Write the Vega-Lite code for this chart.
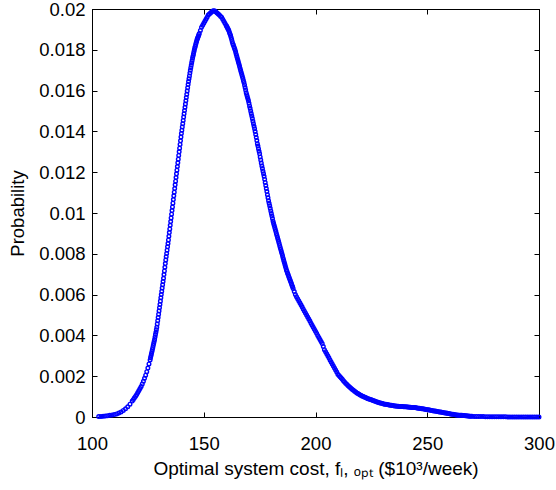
{
"$schema": "https://vega.github.io/schema/vega-lite/v6.json",
"width": 447, "height": 408,
"autosize": "none",
"padding": {"left": 92, "top": 9, "right": 17, "bottom": 73},
"config": {
  "view": {"stroke": "black", "strokeWidth": 1},
  "font": "Liberation Sans",
  "axis": {"domainColor": "black", "domainWidth": 1, "tickColor": "black", "tickWidth": 1, "tickSize": -5, "grid": false, "labelFont": "Liberation Sans", "labelFontSize": 18.5, "labelColor": "black", "titleFont": "Liberation Sans", "titleFontSize": 18.5, "titleFontWeight": "normal", "titleColor": "black", "labelFlush": false, "labelOverlap": false}
},
"data": {"values": [
{"x":103,"y":0.00002},{"x":104,"y":0.00003},{"x":105,"y":0.00004},{"x":106,"y":0.00005},{"x":107,"y":0.00006},{"x":108,"y":0.00008},{"x":109,"y":0.0001},{"x":110,"y":0.00012},{"x":111,"y":0.00015},{"x":112,"y":0.00019},{"x":113,"y":0.00025},{"x":114,"y":0.00032},{"x":115,"y":0.0004},{"x":116,"y":0.0005},{"x":117,"y":0.00063},
{"x":118,"y":0.00078},{"x":118.5,"y":0.00086},{"x":119,"y":0.00094},{"x":119.5,"y":0.00102},{"x":120,"y":0.0011},{"x":120.5,"y":0.0012},{"x":121,"y":0.0013},{"x":121.5,"y":0.0014},{"x":122,"y":0.0015},{"x":122.5,"y":0.00162},{"x":123,"y":0.00175},{"x":123.5,"y":0.0019},{"x":124,"y":0.00205},{"x":124.5,"y":0.00222},{"x":125,"y":0.0024},{"x":125.5,"y":0.0026},
{"x":126,"y":0.0028},{"x":126.2,"y":0.0029},{"x":126.4,"y":0.003},{"x":126.6,"y":0.0031},{"x":126.8,"y":0.0032},{"x":127,"y":0.0033},{"x":127.2,"y":0.0034},{"x":127.4,"y":0.0035},{"x":127.6,"y":0.0036},{"x":127.8,"y":0.0037},
{"x":128,"y":0.0038},{"x":128.2,"y":0.00392},{"x":128.4,"y":0.00404},{"x":128.6,"y":0.00416},{"x":128.8,"y":0.00428},{"x":129,"y":0.0044},{"x":129.2,"y":0.00456},{"x":129.4,"y":0.00472},{"x":129.6,"y":0.00488},{"x":129.8,"y":0.00504},
{"x":130,"y":0.0052},{"x":130.2,"y":0.00536},{"x":130.4,"y":0.00552},{"x":130.6,"y":0.00568},{"x":130.8,"y":0.00584},{"x":131,"y":0.006},{"x":131.2,"y":0.00616},{"x":131.4,"y":0.00632},{"x":131.6,"y":0.00648},{"x":131.8,"y":0.00664},
{"x":132,"y":0.0068},{"x":132.2,"y":0.00698},{"x":132.4,"y":0.00716},{"x":132.6,"y":0.00734},{"x":132.8,"y":0.00752},{"x":133,"y":0.0077},{"x":133.2,"y":0.00786},{"x":133.4,"y":0.00802},{"x":133.6,"y":0.00818},{"x":133.8,"y":0.00834},
{"x":134,"y":0.0085},{"x":134.2,"y":0.00868},{"x":134.4,"y":0.00886},{"x":134.6,"y":0.00904},{"x":134.8,"y":0.00922},{"x":135,"y":0.0094},{"x":135.2,"y":0.00958},{"x":135.4,"y":0.00976},{"x":135.6,"y":0.00994},{"x":135.8,"y":0.01012},
{"x":136,"y":0.0103},{"x":136.2,"y":0.01048},{"x":136.4,"y":0.01066},{"x":136.6,"y":0.01084},{"x":136.8,"y":0.01102},{"x":137,"y":0.0112},{"x":137.2,"y":0.01138},{"x":137.4,"y":0.01156},{"x":137.6,"y":0.01174},{"x":137.8,"y":0.01192},
{"x":138,"y":0.0121},{"x":138.2,"y":0.01228},{"x":138.4,"y":0.01246},{"x":138.6,"y":0.01264},{"x":138.8,"y":0.01282},{"x":139,"y":0.013},{"x":139.2,"y":0.01318},{"x":139.4,"y":0.01336},{"x":139.6,"y":0.01354},{"x":139.8,"y":0.01372},
{"x":140,"y":0.0139},{"x":140.2,"y":0.01406},{"x":140.4,"y":0.01422},{"x":140.6,"y":0.01438},{"x":140.8,"y":0.01454},{"x":141,"y":0.0147},{"x":141.2,"y":0.01486},{"x":141.4,"y":0.01502},{"x":141.6,"y":0.01518},{"x":141.8,"y":0.01534},
{"x":142,"y":0.0155},{"x":142.2,"y":0.01566},{"x":142.4,"y":0.01582},{"x":142.6,"y":0.01598},{"x":142.8,"y":0.01614},{"x":143,"y":0.0163},{"x":143.2,"y":0.01644},{"x":143.4,"y":0.01658},{"x":143.6,"y":0.01672},{"x":143.8,"y":0.01686},
{"x":144,"y":0.017},{"x":144.2,"y":0.01712},{"x":144.4,"y":0.01724},{"x":144.6,"y":0.01736},{"x":144.8,"y":0.01748},{"x":145,"y":0.0176},{"x":145.2,"y":0.0177},{"x":145.4,"y":0.0178},{"x":145.6,"y":0.0179},{"x":145.8,"y":0.018},
{"x":146,"y":0.0181},{"x":146.2,"y":0.01818},{"x":146.4,"y":0.01826},{"x":146.6,"y":0.01834},{"x":146.8,"y":0.01842},{"x":147,"y":0.0185},{"x":147.2,"y":0.01856},{"x":147.4,"y":0.01862},{"x":147.6,"y":0.01868},{"x":147.8,"y":0.01874},
{"x":148,"y":0.0188},{"x":148.5,"y":0.01895},{"x":149,"y":0.0191},{"x":149.5,"y":0.0192},{"x":150,"y":0.0193},{"x":150.5,"y":0.0194},{"x":151,"y":0.0195},{"x":151.5,"y":0.0196},{"x":152,"y":0.0197},{"x":152.5,"y":0.01975},
{"x":153,"y":0.0198},{"x":153.5,"y":0.01985},{"x":154,"y":0.0199},{"x":154.5,"y":0.01992},{"x":155,"y":0.0199},{"x":155.5,"y":0.01985},{"x":156,"y":0.0198},{"x":156.5,"y":0.01975},{"x":157,"y":0.0197},{"x":157.5,"y":0.01965},
{"x":158,"y":0.0196},{"x":158.5,"y":0.0195},{"x":159,"y":0.0194},{"x":159.5,"y":0.0193},
{"x":160,"y":0.0192},{"x":160.25,"y":0.01915},{"x":160.5,"y":0.0191},{"x":160.75,"y":0.01905},{"x":161,"y":0.019},{"x":161.25,"y":0.01893},{"x":161.5,"y":0.01885},{"x":161.75,"y":0.01878},
{"x":162,"y":0.0187},{"x":162.25,"y":0.0186},{"x":162.5,"y":0.0185},{"x":162.75,"y":0.0184},{"x":163,"y":0.0183},{"x":163.25,"y":0.01823},{"x":163.5,"y":0.01815},{"x":163.75,"y":0.01808},
{"x":164,"y":0.018},{"x":164.25,"y":0.0179},{"x":164.5,"y":0.0178},{"x":164.75,"y":0.0177},{"x":165,"y":0.0176},{"x":165.25,"y":0.0175},{"x":165.5,"y":0.0174},{"x":165.75,"y":0.0173},
{"x":166,"y":0.0172},{"x":166.25,"y":0.0171},{"x":166.5,"y":0.017},{"x":166.75,"y":0.0169},{"x":167,"y":0.0168},{"x":167.25,"y":0.0167},{"x":167.5,"y":0.0166},{"x":167.75,"y":0.0165},
{"x":168,"y":0.0164},{"x":168.25,"y":0.01628},{"x":168.5,"y":0.01615},{"x":168.75,"y":0.01603},{"x":169,"y":0.0159},{"x":169.25,"y":0.0158},{"x":169.5,"y":0.0157},{"x":169.75,"y":0.0156},
{"x":170,"y":0.0155},{"x":170.25,"y":0.01538},{"x":170.5,"y":0.01525},{"x":170.75,"y":0.01513},{"x":171,"y":0.015},{"x":171.25,"y":0.01488},{"x":171.5,"y":0.01475},{"x":171.75,"y":0.01463},
{"x":172,"y":0.0145},{"x":172.25,"y":0.01438},{"x":172.5,"y":0.01425},{"x":172.75,"y":0.01413},{"x":173,"y":0.014},{"x":173.25,"y":0.01385},{"x":173.5,"y":0.0137},{"x":173.75,"y":0.01355},
{"x":174,"y":0.0134},{"x":174.25,"y":0.01328},{"x":174.5,"y":0.01315},{"x":174.75,"y":0.01303},{"x":175,"y":0.0129},{"x":175.25,"y":0.01275},{"x":175.5,"y":0.0126},{"x":175.75,"y":0.01245},
{"x":176,"y":0.0123},{"x":176.25,"y":0.01218},{"x":176.5,"y":0.01205},{"x":176.75,"y":0.01193},{"x":177,"y":0.0118},{"x":177.25,"y":0.01165},{"x":177.5,"y":0.0115},{"x":177.75,"y":0.01135},
{"x":178,"y":0.0112},{"x":178.25,"y":0.01105},{"x":178.5,"y":0.0109},{"x":178.75,"y":0.01075},{"x":179,"y":0.0106},{"x":179.25,"y":0.01048},{"x":179.5,"y":0.01035},{"x":179.75,"y":0.01023},
{"x":180,"y":0.0101},{"x":180.25,"y":0.00998},{"x":180.5,"y":0.00985},{"x":180.75,"y":0.00973},{"x":181,"y":0.0096},{"x":181.25,"y":0.0095},{"x":181.5,"y":0.0094},{"x":181.75,"y":0.0093},
{"x":182,"y":0.0092},{"x":182.25,"y":0.0091},{"x":182.5,"y":0.009},{"x":182.75,"y":0.0089},{"x":183,"y":0.0088},{"x":183.25,"y":0.0087},{"x":183.5,"y":0.0086},{"x":183.75,"y":0.0085},
{"x":184,"y":0.0084},{"x":184.25,"y":0.0083},{"x":184.5,"y":0.0082},{"x":184.75,"y":0.0081},{"x":185,"y":0.008},{"x":185.25,"y":0.0079},{"x":185.5,"y":0.0078},{"x":185.75,"y":0.0077},
{"x":186,"y":0.0076},{"x":186.25,"y":0.0075},{"x":186.5,"y":0.0074},{"x":186.75,"y":0.0073},{"x":187,"y":0.0072},{"x":187.25,"y":0.00713},{"x":187.5,"y":0.00705},{"x":187.75,"y":0.00698},
{"x":188,"y":0.0069},{"x":188.25,"y":0.00683},{"x":188.5,"y":0.00675},{"x":188.75,"y":0.00668},{"x":189,"y":0.0066},{"x":189.25,"y":0.00653},{"x":189.5,"y":0.00645},{"x":189.75,"y":0.00638},
{"x":190,"y":0.0063},{"x":190.5,"y":0.00615},{"x":191,"y":0.006},{"x":191.5,"y":0.0059},{"x":192,"y":0.0058},{"x":192.5,"y":0.0057},{"x":193,"y":0.0056},{"x":193.5,"y":0.0055},{"x":194,"y":0.0054},{"x":194.5,"y":0.0053},
{"x":195,"y":0.0052},{"x":195.5,"y":0.0051},{"x":196,"y":0.005},{"x":196.5,"y":0.0049},{"x":197,"y":0.0048},{"x":197.5,"y":0.0047},{"x":198,"y":0.0046},{"x":198.5,"y":0.0045},{"x":199,"y":0.0044},{"x":199.5,"y":0.0043},
{"x":200,"y":0.0042},{"x":200.5,"y":0.0041},{"x":201,"y":0.004},{"x":201.5,"y":0.0039},{"x":202,"y":0.0038},{"x":202.5,"y":0.0037},{"x":203,"y":0.0036},{"x":203.5,"y":0.00345},{"x":204,"y":0.0033},{"x":204.5,"y":0.0032},
{"x":205,"y":0.0031},{"x":205.5,"y":0.003},{"x":206,"y":0.0029},{"x":206.5,"y":0.0028},{"x":207,"y":0.0027},{"x":207.5,"y":0.0026},{"x":208,"y":0.0025},{"x":208.5,"y":0.0024},{"x":209,"y":0.0023},{"x":209.5,"y":0.0022},
{"x":210,"y":0.0021},{"x":210.5,"y":0.00203},{"x":211,"y":0.00197},{"x":211.5,"y":0.00191},{"x":212,"y":0.00185},{"x":212.5,"y":0.00178},{"x":213,"y":0.00172},{"x":213.5,"y":0.00166},{"x":214,"y":0.0016},{"x":214.5,"y":0.00155},
{"x":215,"y":0.0015},{"x":215.5,"y":0.00145},{"x":216,"y":0.0014},{"x":216.5,"y":0.00135},{"x":217,"y":0.00131},{"x":217.5,"y":0.00126},{"x":218,"y":0.00122},{"x":218.5,"y":0.00118},{"x":219,"y":0.00115},{"x":219.5,"y":0.00111},
{"x":220,"y":0.00108},{"x":220.5,"y":0.00105},{"x":221,"y":0.00102},{"x":221.5,"y":0.001},{"x":222,"y":0.00097},{"x":222.5,"y":0.00095},{"x":223,"y":0.00092},{"x":223.5,"y":0.0009},{"x":224,"y":0.00088},{"x":224.5,"y":0.00086},
{"x":225,"y":0.00084},{"x":225.5,"y":0.00082},{"x":226,"y":0.0008},{"x":226.5,"y":0.00078},{"x":227,"y":0.00076},{"x":227.5,"y":0.00074},{"x":228,"y":0.00072},{"x":228.5,"y":0.0007},{"x":229,"y":0.00069},{"x":229.5,"y":0.00067},
{"x":230,"y":0.00066},{"x":230.5,"y":0.00064},{"x":231,"y":0.00063},{"x":231.5,"y":0.00062},{"x":232,"y":0.00061},{"x":232.5,"y":0.0006},{"x":233,"y":0.00059},{"x":233.5,"y":0.00058},{"x":234,"y":0.00057},{"x":234.5,"y":0.00056},
{"x":235,"y":0.00055},{"x":235.5,"y":0.00054},{"x":236,"y":0.00054},{"x":236.5,"y":0.00053},{"x":237,"y":0.00053},{"x":237.5,"y":0.00052},{"x":238,"y":0.00052},{"x":238.5,"y":0.00051},{"x":239,"y":0.00051},{"x":239.5,"y":0.0005},
{"x":240,"y":0.0005},{"x":240.5,"y":0.0005},{"x":241,"y":0.00049},{"x":241.5,"y":0.00049},{"x":242,"y":0.00048},{"x":242.5,"y":0.00048},{"x":243,"y":0.00047},{"x":243.5,"y":0.00047},{"x":244,"y":0.00046},{"x":244.5,"y":0.00046},
{"x":245,"y":0.00045},{"x":245.5,"y":0.00044},{"x":246,"y":0.00043},{"x":246.5,"y":0.00043},{"x":247,"y":0.00042},{"x":247.5,"y":0.00041},{"x":248,"y":0.0004},{"x":248.5,"y":0.00039},{"x":249,"y":0.00038},{"x":249.5,"y":0.00037},
{"x":250,"y":0.00036},{"x":250.5,"y":0.00035},{"x":251,"y":0.00034},{"x":251.5,"y":0.00033},{"x":252,"y":0.00032},{"x":252.5,"y":0.00031},{"x":253,"y":0.0003},{"x":253.5,"y":0.00029},{"x":254,"y":0.00028},{"x":254.5,"y":0.00027},
{"x":255,"y":0.00026},{"x":255.5,"y":0.00025},{"x":256,"y":0.00024},{"x":256.5,"y":0.00023},{"x":257,"y":0.00022},{"x":257.5,"y":0.00021},{"x":258,"y":0.0002},{"x":258.5,"y":0.00019},{"x":259,"y":0.00018},{"x":259.5,"y":0.00017},
{"x":260,"y":0.00016},{"x":260.5,"y":0.00015},{"x":261,"y":0.00014},{"x":261.5,"y":0.00013},{"x":262,"y":0.00012},{"x":262.5,"y":0.00011},{"x":263,"y":0.0001},{"x":263.5,"y":0.0001},{"x":264,"y":0.00009},{"x":264.5,"y":0.00009},
{"x":265,"y":0.00008},{"x":265.5,"y":0.00008},{"x":266,"y":0.00007},{"x":266.5,"y":0.00007},{"x":267,"y":0.00006},{"x":267.5,"y":0.00006},{"x":268,"y":0.00005},{"x":268.5,"y":0.00005},{"x":269,"y":0.00004},{"x":269.5,"y":0.00004},
{"x":270,"y":0.00004},{"x":271,"y":0.00003},{"x":272,"y":0.00003},{"x":273,"y":0.00002},{"x":274,"y":0.00002},{"x":275,"y":0.00002},{"x":276,"y":0.00001},{"x":277,"y":0.00001},{"x":278,"y":0.00001},{"x":279,"y":0.00001},
{"x":280,"y":0.00001},{"x":281,"y":0.00001},{"x":282,"y":0.00001},{"x":283,"y":0.00001},{"x":284,"y":0.00001},{"x":285,"y":0.00001},{"x":286,"y":0},{"x":287,"y":0},{"x":288,"y":0},{"x":289,"y":0},
{"x":290,"y":0},{"x":291,"y":0},{"x":292,"y":0},{"x":293,"y":0},{"x":294,"y":0},{"x":295,"y":0},{"x":296,"y":0},{"x":297,"y":0},{"x":298,"y":0},{"x":299,"y":0},{"x":300,"y":0}
]},
"layer": [
  {
    "mark": {"type": "point", "shape": "circle", "filled": false, "color": "#0000ff", "strokeWidth": 1.4, "size": 13, "opacity": 1},
    "encoding": {
      "x": {"field": "x", "type": "quantitative", "scale": {"domain": [100, 300], "nice": false, "zero": false},
            "axis": {"values": [100, 150, 200, 250, 300], "format": "d", "labelPadding": 22, "title": "Optimal system cost, fₗ, ₒₚₜ ($10³/week)", "titleFontSize": 19, "titlePadding": 7}},
      "y": {"field": "y", "type": "quantitative", "scale": {"domain": [0, 0.02], "nice": false},
            "axis": {"values": [0, 0.002, 0.004, 0.006, 0.008, 0.01, 0.012, 0.014, 0.016, 0.018, 0.02], "labelExpr": "'' + datum.value", "labelPadding": 12, "title": "Probability", "titlePadding": 11}}
    }
  },
  {
    "mark": {"type": "point", "opacity": 0},
    "encoding": {
      "x": {"field": "x", "type": "quantitative", "scale": {"domain": [100, 300], "nice": false, "zero": false},
            "axis": {"orient": "top", "values": [100, 150, 200, 250, 300], "labels": false, "title": null}},
      "y": {"field": "y", "type": "quantitative", "scale": {"domain": [0, 0.02], "nice": false},
            "axis": {"orient": "right", "values": [0, 0.002, 0.004, 0.006, 0.008, 0.01, 0.012, 0.014, 0.016, 0.018, 0.02], "labels": false, "title": null}}
    }
  }
],
"resolve": {"axis": {"x": "independent", "y": "independent"}}
}
